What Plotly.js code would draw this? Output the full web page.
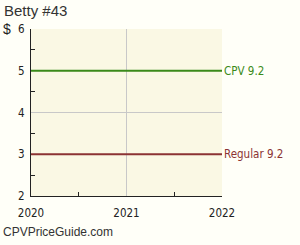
<!DOCTYPE html>
<html><head><meta charset="utf-8">
<script src="https://cdn.plot.ly/plotly-3.0.1.min.js"></script>
<style>html,body{margin:0;padding:0;background:#FFFFF8;}#c{width:300px;height:245px;}</style>
</head><body><div id="c"></div>
<script>
const years = [2020, 2022];
const cpvValues = [5, 5];
const regularValues = [3, 3];
const cpvLabel = 'CPV 9.2';
const regularLabel = 'Regular 9.2';
const titleText = 'Betty #43';
const footerText = 'CPVPriceGuide.com';
const tickFont = {family: 'DejaVu Sans Condensed', size: 11.5, color: '#222'};
const traces = [
  {x: years, y: cpvValues, mode: 'lines', line: {color: '#3A8A1A', width: 2}, hoverinfo: 'skip'},
  {x: years, y: regularValues, mode: 'lines', line: {color: '#8B3333', width: 2}, hoverinfo: 'skip'}
];
const layout = {
  width: 300, height: 245,
  margin: {l: 31, r: 78, t: 29, b: 49},
  paper_bgcolor: '#FFFFF8', plot_bgcolor: '#FAF8E4',
  showlegend: false,
  xaxis: {range: [2020, 2022], dtick: 1, tick0: 2020, showgrid: true, gridcolor: '#C8C8C8', gridwidth: 1,
    showline: true, linecolor: '#222', linewidth: 1, ticks: '', zeroline: false,
    tickfont: tickFont, ticklabelstandoff: 6,
    minor: {dtick: 0.5, tick0: 2020, ticks: 'inside', ticklen: 4, tickcolor: '#222', showgrid: false}},
  yaxis: {range: [2, 6], dtick: 1, tick0: 2, showgrid: true, gridcolor: '#C8C8C8', gridwidth: 1,
    showline: true, linecolor: '#222', linewidth: 1, ticks: '', zeroline: false,
    tickfont: tickFont, ticklabelstandoff: 3,
    minor: {dtick: 0.5, tick0: 2, ticks: 'inside', ticklen: 4, tickcolor: '#222', showgrid: false}},
  annotations: [
    {text: titleText, xref: 'paper', yref: 'paper', x: -31/191, y: 1 + 19/167, xanchor: 'left', yanchor: 'middle', showarrow: false, xshift: 2, font: {family: 'Liberation Sans', size: 15, color: '#333'}},
    {text: '$', xref: 'paper', yref: 'paper', x: -31/191, y: 1, xanchor: 'left', yanchor: 'middle', showarrow: false, xshift: 1, font: {family: 'Liberation Sans', size: 14, color: '#222'}},
    {text: footerText, xref: 'paper', yref: 'paper', x: -31/191, y: -36/167, xanchor: 'left', yanchor: 'middle', showarrow: false, xshift: 1, font: {family: 'Liberation Sans', size: 12, color: '#333'}},
    {text: cpvLabel, xref: 'paper', yref: 'y', x: 1, y: cpvValues[1], xanchor: 'left', yanchor: 'middle', showarrow: false, xshift: 0, font: {family: 'DejaVu Sans Condensed', size: 11.5, color: '#3A8A1A'}},
    {text: regularLabel, xref: 'paper', yref: 'y', x: 1, y: regularValues[1], xanchor: 'left', yanchor: 'middle', showarrow: false, xshift: 0, font: {family: 'DejaVu Sans Condensed', size: 11.5, color: '#8B3333'}}
  ]
};
Plotly.newPlot('c', traces, layout, {displayModeBar: false, staticPlot: true});
</script></body></html>
